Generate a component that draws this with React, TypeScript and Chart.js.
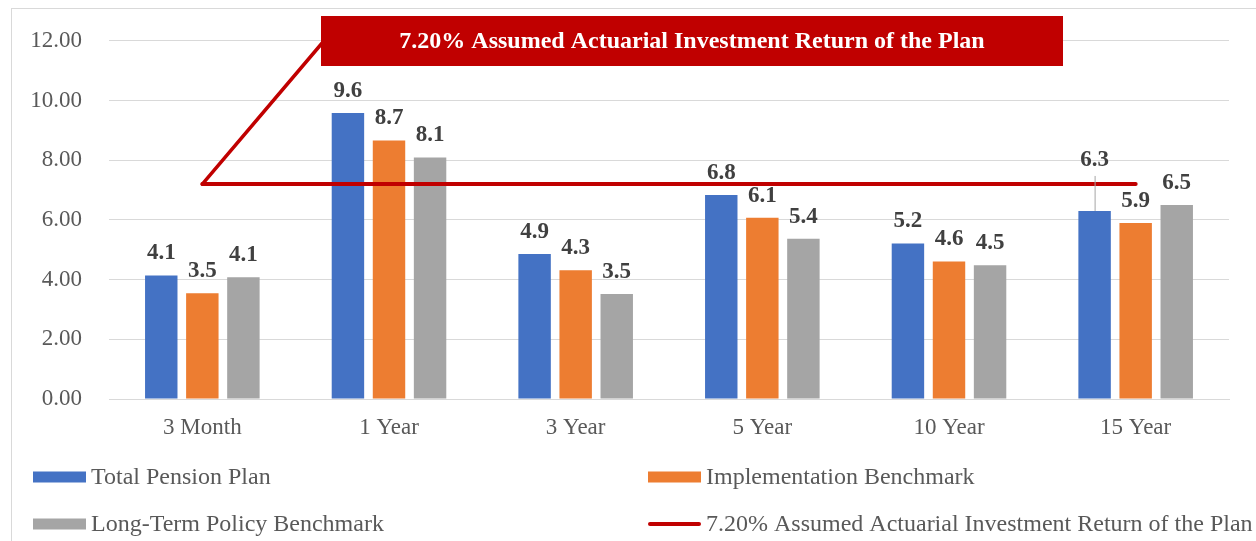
import React, { useEffect, useRef } from "react";
import { Chart, registerables } from "chart.js";

Chart.register(...registerables);

const categories = ["3 Month", "1 Year", "3 Year", "5 Year", "10 Year", "15 Year"];
const totalPensionPlan = [4.14, 9.58, 4.86, 6.83, 5.21, 6.3];
const implementationBenchmark = [3.54, 8.66, 4.31, 6.07, 4.61, 5.9];
const longTermPolicyBenchmark = [4.08, 8.09, 3.52, 5.37, 4.48, 6.5];
const assumedReturn = [7.2, 7.2, 7.2, 7.2, 7.2, 7.2];
const seriesNames = [
  "Total Pension Plan",
  "Implementation Benchmark",
  "Long-Term Policy Benchmark",
  "7.20% Assumed Actuarial Investment Return of the Plan",
];
const calloutText = "7.20% Assumed Actuarial Investment Return of the Plan";

const BLUE = "#4472C4";
const ORANGE = "#ED7D31";
const GRAY = "#A5A5A5";
const RED = "#C00000";
const TEXT = "#595959";
const SERIF = "'Liberation Serif', 'Times New Roman', serif";

const decorPlugin = {
  id: "decor",
  beforeDraw(chart: any) {
    const ctx = chart.ctx;
    ctx.save();
    ctx.strokeStyle = "#d9d9d9";
    ctx.lineWidth = 1;
    ctx.strokeRect(11.5, 8.5, 3000, 3000);
    ctx.restore();
  },
  afterDatasetsDraw(chart: any) {
    const ctx = chart.ctx;
    ctx.save();
    ctx.font = `bold 23px ${SERIF}`;
    ctx.fillStyle = "#404040";
    ctx.textAlign = "center";
    ctx.textBaseline = "middle";
    for (let d = 0; d < 3; d++) {
      const meta = chart.getDatasetMeta(d);
      const data = chart.data.datasets[d].data as number[];
      meta.data.forEach((bar: any, i: number) => {
        const label = data[i].toFixed(1);
        if (d === 0 && i === categories.length - 1) {
          const ly = bar.y - 51;
          ctx.fillText(label, bar.x, ly);
          ctx.save();
          ctx.strokeStyle = GRAY;
          ctx.lineWidth = 1;
          ctx.beginPath();
          ctx.moveTo(bar.x + 0.5, ly + 16);
          ctx.lineTo(bar.x + 0.5, bar.y);
          ctx.stroke();
          ctx.restore();
        } else {
          ctx.fillText(label, bar.x, bar.y - 22);
        }
      });
    }
    ctx.restore();
  },
  afterDraw(chart: any) {
    const ctx = chart.ctx;
    const lineMeta = chart.getDatasetMeta(3);
    const p0 = lineMeta.data[0];
    ctx.save();
    // callout connector
    const bx0 = 321, bx1 = 1063, by0 = 16, by1 = 66;
    ctx.strokeStyle = RED;
    ctx.lineWidth = 3.5;
    ctx.lineCap = "round";
    ctx.beginPath();
    ctx.moveTo(bx0 + 2, 42);
    ctx.lineTo(p0.x, p0.y);
    ctx.stroke();
    // callout box
    ctx.fillStyle = RED;
    ctx.fillRect(bx0, by0, bx1 - bx0, by1 - by0);
    ctx.fillStyle = "#ffffff";
    ctx.font = `bold 24px ${SERIF}`;
    ctx.textAlign = "center";
    ctx.textBaseline = "middle";
    ctx.fillText(calloutText, (bx0 + bx1) / 2, (by0 + by1) / 2 + 1);

    // legend
    const slots = [
      { x: 33, y: 477 },
      { x: 648, y: 477 },
      { x: 33, y: 524 },
      { x: 648, y: 524 },
    ];
    ctx.font = `24px ${SERIF}`;
    ctx.textAlign = "left";
    ctx.textBaseline = "middle";
    chart.data.datasets.forEach((ds: any, i: number) => {
      const s = slots[i];
      if (ds.type === "line") {
        ctx.strokeStyle = ds.borderColor;
        ctx.lineWidth = 4;
        ctx.lineCap = "round";
        ctx.beginPath();
        ctx.moveTo(s.x + 2, s.y);
        ctx.lineTo(s.x + 51, s.y);
        ctx.stroke();
      } else {
        ctx.fillStyle = ds.backgroundColor;
        ctx.fillRect(s.x, s.y - 5.5, 53, 11);
      }
      ctx.fillStyle = TEXT;
      ctx.fillText(ds.label, s.x + 58, s.y + 1);
    });
    ctx.restore();
  },
};

export default function App() {
  const ref = useRef<HTMLCanvasElement | null>(null);
  useEffect(() => {
    if (!ref.current) return;
    const barCommon = { categoryPercentage: 0.66, barPercentage: 0.79, order: 1 };
    const chart = new Chart(ref.current, {
      type: "bar",
      data: {
        labels: categories,
        datasets: [
          { type: "bar", label: seriesNames[0], data: totalPensionPlan, backgroundColor: BLUE, ...barCommon },
          { type: "bar", label: seriesNames[1], data: implementationBenchmark, backgroundColor: ORANGE, ...barCommon },
          { type: "bar", label: seriesNames[2], data: longTermPolicyBenchmark, backgroundColor: GRAY, ...barCommon },
          {
            type: "line",
            label: seriesNames[3],
            data: assumedReturn,
            borderColor: RED,
            backgroundColor: RED,
            borderWidth: 4,
            borderCapStyle: "round",
            pointRadius: 0,
            fill: false,
            order: 0,
          },
        ] as any,
      },
      options: {
        animation: false,
        responsive: true,
        maintainAspectRatio: false,
        layout: { padding: { left: 0, right: 27, top: 37, bottom: 0 } },
        plugins: { legend: { display: false }, tooltip: { enabled: false } },
        scales: {
          x: {
            grid: { display: false, drawTicks: false },
            border: { display: true, color: "#d9d9d9", width: 1 },
            ticks: { font: { family: SERIF, size: 23 }, color: TEXT, padding: 15 },
            afterFit: (s: any) => {
              s.height = 142;
            },
          },
          y: {
            min: 0,
            max: 12,
            grid: { color: "#d9d9d9", drawTicks: false },
            border: { display: false },
            ticks: {
              stepSize: 2,
              font: { family: SERIF, size: 23 },
              color: TEXT,
              padding: 27,
              callback: (v: any) => Number(v).toFixed(2),
            },
            afterFit: (s: any) => {
              s.width = 109;
            },
          },
        },
      } as any,
      plugins: [decorPlugin],
    });
    return () => chart.destroy();
  }, []);
  return (
    <div style={{ position: "fixed", left: 0, top: 0, width: 1256, height: 541, background: "#fff" }}>
      <canvas ref={ref} />
    </div>
  );
}
